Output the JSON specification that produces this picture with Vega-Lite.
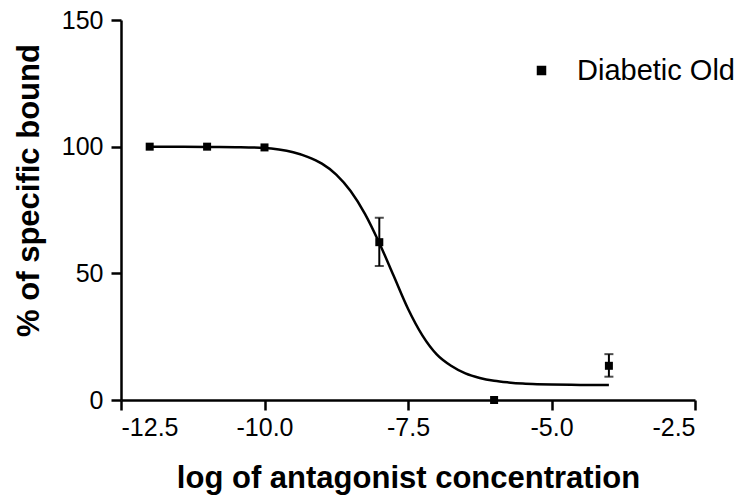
{
  "$schema": "https://vega.github.io/schema/vega-lite/v6.json",
  "autosize": {"type": "none"},
  "padding": {"left": 121, "top": 20, "right": 57, "bottom": 99},
  "width": 574,
  "height": 380,
  "background": "white",
  "config": {
    "font": "Liberation Sans",
    "view": {"stroke": null},
    "axis": {
      "grid": false,
      "domainColor": "black",
      "domainWidth": 2.5,
      "tickColor": "black",
      "tickWidth": 2.5,
      "tickSize": 10,
      "labelColor": "black",
      "labelFontSize": 25,
      "labelFont": "Liberation Sans",
      "titleColor": "black",
      "titleFont": "Liberation Sans",
      "titleFontSize": 31,
      "titleFontWeight": "bold"
    }
  },
  "datasets": {
    "points": [
      {"x": -12, "y": 100, "series": "Diabetic Old"},
      {"x": -11, "y": 100, "series": "Diabetic Old"},
      {"x": -10, "y": 99.7, "series": "Diabetic Old"},
      {"x": -8, "y": 62.3, "series": "Diabetic Old"},
      {"x": -6, "y": 0, "series": "Diabetic Old"},
      {"x": -4, "y": 13.5, "series": "Diabetic Old"}
    ],
    "errors": [
      {"x": -8, "lo": 52.9, "hi": 71.9},
      {"x": -4, "lo": 9.2, "hi": 18.1}
    ],
    "curve": [
      {"x": -12, "y": 100},
      {"x": -11.5, "y": 100},
      {"x": -11, "y": 99.9},
      {"x": -10.5, "y": 99.8},
      {"x": -10, "y": 99.5},
      {"x": -9.75, "y": 98.9},
      {"x": -9.5, "y": 97.8},
      {"x": -9.25, "y": 96.0},
      {"x": -9.0, "y": 93.3},
      {"x": -8.75, "y": 89.0},
      {"x": -8.5, "y": 82.5},
      {"x": -8.25, "y": 73.5},
      {"x": -8.0, "y": 62},
      {"x": -7.75, "y": 49},
      {"x": -7.5, "y": 36},
      {"x": -7.25, "y": 25.5},
      {"x": -7.0, "y": 18},
      {"x": -6.75, "y": 13.5},
      {"x": -6.5, "y": 10.5},
      {"x": -6.25, "y": 8.7},
      {"x": -6.0, "y": 7.6},
      {"x": -5.75, "y": 6.95},
      {"x": -5.5, "y": 6.5},
      {"x": -5.25, "y": 6.25},
      {"x": -5.0, "y": 6.1},
      {"x": -4.5, "y": 5.95},
      {"x": -4.0, "y": 5.9}
    ]
  },
  "encoding": {
    "x": {
      "field": "x",
      "type": "quantitative",
      "scale": {"domain": [-12.5, -2.5], "nice": false, "zero": false},
      "axis": {
        "values": [-12.5, -10, -7.5, -5, -2.5],
        "labelExpr": "datum.value < 0 ? '-' + format(-datum.value, '.1f') : format(datum.value, '.1f')",
        "labelPadding": 5,
        "title": "log of antagonist concentration",
        "titleX": 287,
        "titleY": 87,
        "titleBaseline": "alphabetic",
        "titleAlign": "center"
      }
    }
  },
  "layer": [
    {
      "data": {"name": "curve"},
      "mark": {"type": "line", "color": "black", "strokeWidth": 2.5, "interpolate": "monotone"},
      "encoding": {
        "y": {
          "field": "y",
          "type": "quantitative",
          "scale": {"domain": [0, 150], "nice": false},
          "axis": {
            "values": [0, 50, 100, 150],
            "labelPadding": 8,
            "title": "% of specific bound",
            "titleAngle": -90,
            "titleX": -92,
            "titleY": 170,
            "titleBaseline": "middle",
            "titleAlign": "center"
          }
        }
      }
    },
    {
      "data": {"name": "errors"},
      "mark": {"type": "rule", "color": "black", "strokeWidth": 2},
      "encoding": {
        "y": {"field": "lo", "type": "quantitative"},
        "y2": {"field": "hi"}
      }
    },
    {
      "data": {"name": "errors"},
      "mark": {"type": "tick", "color": "black", "orient": "horizontal", "size": 9, "thickness": 2},
      "encoding": {"y": {"field": "lo", "type": "quantitative"}}
    },
    {
      "data": {"name": "errors"},
      "mark": {"type": "tick", "color": "black", "orient": "horizontal", "size": 9, "thickness": 2},
      "encoding": {"y": {"field": "hi", "type": "quantitative"}}
    },
    {
      "data": {"name": "points"},
      "mark": {"type": "point", "shape": "square", "filled": true, "size": 64, "opacity": 1},
      "encoding": {
        "y": {"field": "y", "type": "quantitative"},
        "color": {
          "field": "series",
          "type": "nominal",
          "scale": {"range": ["black"]},
          "legend": {
            "title": null,
            "orient": "none",
            "legendX": 406,
            "legendY": 36,
            "symbolType": "square",
            "symbolSize": 64,
            "symbolFillColor": "black",
            "symbolStrokeColor": "black",
            "symbolOpacity": 1,
            "labelFontSize": 29,
            "labelColor": "black",
            "labelFont": "Liberation Sans",
            "labelOffset": 21,
            "labelLimit": 300
          }
        }
      }
    }
  ]
}
